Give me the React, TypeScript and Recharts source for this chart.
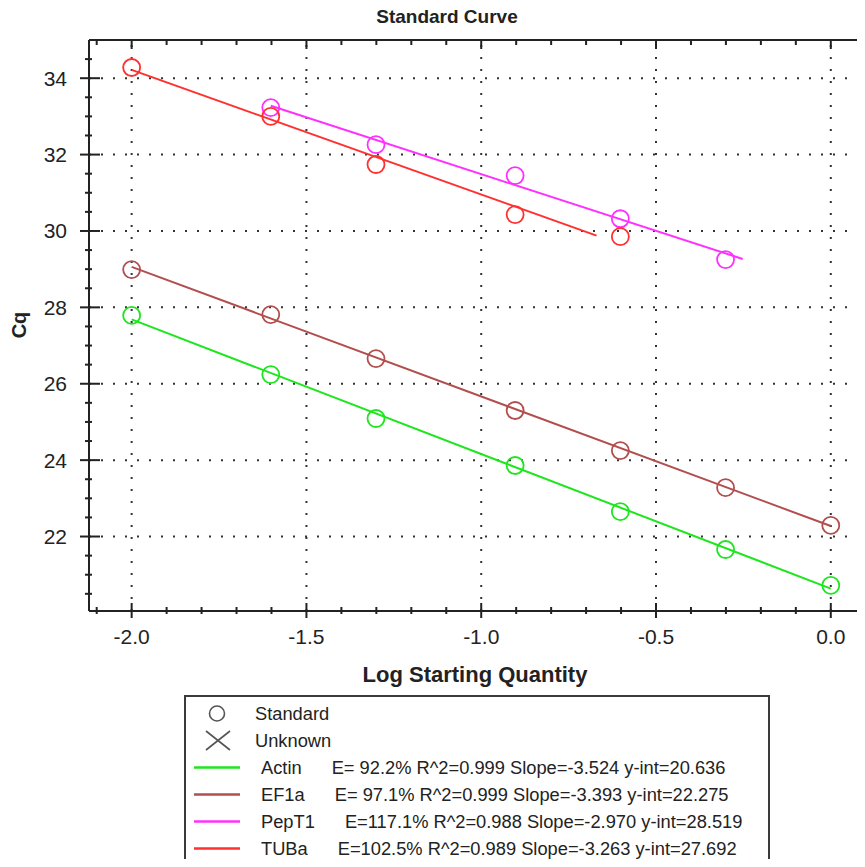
import React from "react";
import { ReferenceLine, Scatter, ScatterChart, XAxis, YAxis } from "recharts";

const FONT = '"Liberation Sans", Arial, sans-serif';
const INK = "#222";

// log10 of the dilution series
const LOG_QTY = [-2, -1.602, -1.301, -0.903, -0.602, -0.301, 0];
const ACTIN_CQ = [27.79, 26.24, 25.09, 23.86, 22.65, 21.66, 20.72];
const EF1A_CQ = [28.99, 27.81, 26.66, 25.3, 24.25, 23.28, 22.29];
const PEPT1_LOG = [-1.602, -1.301, -0.903, -0.602, -0.301];
const PEPT1_CQ = [33.23, 32.26, 31.45, 30.32, 29.25];
const TUBA_LOG = [-2, -1.602, -1.301, -0.903, -0.602];
const TUBA_CQ = [34.28, 33.0, 31.74, 30.43, 29.85];

const GENES = ["Actin", "EF1a", "PepT1", "TUBa"];
const COLORS = ["#1ee61e", "#b24e4e", "#ff30ff", "#ff3030"];
const EFFICIENCY = [92.2, 97.1, 117.1, 102.5];
const R2 = [0.999, 0.999, 0.988, 0.989];
const SLOPE = [-3.524, -3.393, -2.97, -3.263];
const Y_INT = [20.636, 22.275, 28.519, 27.692];
const FIT_FROM = [-2, -2, -1.602, -2];
const FIT_TO = [0, 0, -0.252, -0.67];

const X_TICKS = [
  -2.1, -2.0, -1.9, -1.8, -1.7, -1.6, -1.5, -1.4, -1.3, -1.2, -1.1, -1.0,
  -0.9, -0.8, -0.7, -0.6, -0.5, -0.4, -0.3, -0.2, -0.1, 0.0,
];
const X_LABELS = [-2.0, -1.5, -1.0, -0.5, 0.0];
const Y_TICKS = [
  20.5, 21, 21.5, 22, 22.5, 23, 23.5, 24, 24.5, 25, 25.5, 26, 26.5, 27, 27.5,
  28, 28.5, 29, 29.5, 30, 30.5, 31, 31.5, 32, 32.5, 33, 33.5, 34, 34.5,
];
const Y_LABELS = [22, 24, 26, 28, 30, 32, 34];

const X_DOMAIN = [-2.122, 0.095];
const Y_DOMAIN = [20.05, 35.0];

const points = (xs: number[], ys: number[]) => xs.map((x, i) => ({ x, y: ys[i] }));

const STANDARDS = [
  points(LOG_QTY, ACTIN_CQ),
  points(LOG_QTY, EF1A_CQ),
  points(PEPT1_LOG, PEPT1_CQ),
  points(TUBA_LOG, TUBA_CQ),
];

// regression lines from the reported slope / intercept
const FITS = GENES.map((_, i) =>
  [FIT_FROM[i], FIT_TO[i]].map((x) => ({ x, y: SLOPE[i] * x + Y_INT[i] }))
);

function BottomTick({ x, y, payload }: any) {
  const major = X_LABELS.includes(payload.value);
  return (
    <g>
      <line x1={x} x2={x} y1={y - (major ? 8 : 4)} y2={y + (major ? 7 : 3)} stroke={INK} strokeWidth={2} />
      {major && (
        <text x={x} y={y + 33} textAnchor="middle" fontSize={21} fontFamily={FONT} fill={INK}>
          {payload.value.toFixed(1)}
        </text>
      )}
    </g>
  );
}

function TopTick({ x, y, payload }: any) {
  const major = X_LABELS.includes(payload.value);
  return <line x1={x} x2={x} y1={y} y2={y + (major ? 9 : 5)} stroke={INK} strokeWidth={2} />;
}

function LeftTick({ x, y, payload }: any) {
  const major = Y_LABELS.includes(payload.value);
  return (
    <g>
      <line x1={x - (major ? 9 : 4)} x2={x + (major ? 11 : 3)} y1={y} y2={y} stroke={INK} strokeWidth={2} />
      {major && (
        <text x={x - 22} y={y + 7.5} textAnchor="end" fontSize={21} fontFamily={FONT} fill={INK}>
          {payload.value}
        </text>
      )}
    </g>
  );
}

function RightTick({ x, y, payload }: any) {
  const major = Y_LABELS.includes(payload.value);
  return <line x1={x - (major ? 7 : 3)} x2={x} y1={y} y2={y} stroke={INK} strokeWidth={2} />;
}

const openCircle = (color: string) => (p: any) =>
  <circle cx={p.cx} cy={p.cy} r={8.5} fill="none" stroke={color} strokeWidth={1.8} />;

const axisLine = { stroke: INK, strokeWidth: 2 };
const dotted = { stroke: "#333", strokeWidth: 2, strokeDasharray: "2 10" };

function statText(i: number) {
  const e = EFFICIENCY[i];
  return `E=${e < 100 ? " " : ""}${e.toFixed(1)}% R^2=${R2[i].toFixed(3)} Slope=${SLOPE[i].toFixed(3)} y-int=${Y_INT[i].toFixed(3)}`;
}

function LegendBox() {
  const row: React.CSSProperties = { height: 27, display: "flex", alignItems: "center", whiteSpace: "pre" };
  const sym: React.CSSProperties = { width: 69, flex: "none" };
  return (
    <div
      style={{
        position: "absolute",
        left: 184,
        top: 695,
        width: 586,
        height: 170,
        boxSizing: "border-box",
        border: "2px solid #3a3a3a",
        paddingTop: 3,
        fontFamily: FONT,
        fontSize: 18.3,
        color: INK,
      }}
    >
      <div style={row}>
        <svg width={69} height={27} style={sym}>
          <circle cx={31} cy={13.5} r={7.5} fill="none" stroke="#555" strokeWidth={1.6} />
        </svg>
        <span>Standard</span>
      </div>
      <div style={row}>
        <svg width={69} height={27} style={sym}>
          <path d="M20 4 L44 23 M44 4 L20 23" stroke="#555" strokeWidth={1.6} />
        </svg>
        <span>Unknown</span>
      </div>
      {GENES.map((g, i) => (
        <div key={g} style={row}>
          <svg width={75} height={27} style={{ flex: "none" }}>
            <line x1={8} x2={54} y1={13.5} y2={13.5} stroke={COLORS[i]} strokeWidth={2.5} />
          </svg>
          <span>{g}</span>
          <span style={{ marginLeft: 30 }}>{statText(i)}</span>
        </div>
      ))}
    </div>
  );
}

export default function App() {
  return (
    <div style={{ position: "relative", width: 865, height: 867, margin: -8, background: "#fff", overflow: "hidden" }}>
      <ScatterChart width={865} height={700} margin={{ top: 39, right: 0, bottom: 0, left: 0 }}>
        <XAxis
          xAxisId="b"
          type="number"
          dataKey="x"
          domain={X_DOMAIN}
          ticks={X_TICKS}
          interval={0}
          allowDataOverflow
          height={89}
          tickSize={0}
          tickMargin={0}
          tickLine={false}
          axisLine={axisLine}
          tick={<BottomTick />}
        />
        <XAxis
          xAxisId="t"
          orientation="top"
          type="number"
          dataKey="x"
          domain={X_DOMAIN}
          ticks={X_TICKS}
          interval={0}
          allowDataOverflow
          height={1}
          tickSize={0}
          tickMargin={0}
          tickLine={false}
          axisLine={axisLine}
          tick={<TopTick />}
        />
        <YAxis
          yAxisId="l"
          type="number"
          dataKey="y"
          domain={Y_DOMAIN}
          ticks={Y_TICKS}
          interval={0}
          allowDataOverflow
          width={89}
          tickSize={0}
          tickMargin={0}
          tickLine={false}
          axisLine={axisLine}
          tick={<LeftTick />}
        />
        <YAxis
          yAxisId="r"
          orientation="right"
          type="number"
          dataKey="y"
          domain={Y_DOMAIN}
          ticks={Y_TICKS}
          interval={0}
          allowDataOverflow
          width={1}
          tickSize={0}
          tickMargin={0}
          tickLine={false}
          axisLine={axisLine}
          tick={<RightTick />}
        />
        {X_LABELS.map((v) => (
          <ReferenceLine key={`x${v}`} x={v} xAxisId="b" yAxisId="l" {...dotted} />
        ))}
        {Y_LABELS.map((v) => (
          <ReferenceLine key={`y${v}`} y={v} xAxisId="b" yAxisId="l" {...dotted} />
        ))}
        {FITS.map((d, i) => (
          <Scatter
            key={`fit-${GENES[i]}`}
            xAxisId="b"
            yAxisId="l"
            data={d}
            fill={COLORS[i]}
            line={{ stroke: COLORS[i], strokeWidth: 2 }}
            shape={() => <g />}
            isAnimationActive={false}
          />
        ))}
        {STANDARDS.map((d, i) => (
          <Scatter
            key={`std-${GENES[i]}`}
            xAxisId="b"
            yAxisId="l"
            data={d}
            fill={COLORS[i]}
            shape={openCircle(COLORS[i])}
            isAnimationActive={false}
          />
        ))}
      </ScatterChart>
      <svg width={865} height={700} style={{ position: "absolute", left: 0, top: 0, pointerEvents: "none" }}>
        <text x={447} y={23} textAnchor="middle" fontSize={19} fontWeight="bold" fontFamily={FONT} fill={INK}>
          Standard Curve
        </text>
        <text x={475} y={682} textAnchor="middle" fontSize={22} fontWeight="bold" fontFamily={FONT} fill={INK}>
          Log Starting Quantity
        </text>
        <text
          x={26}
          y={325}
          textAnchor="middle"
          fontSize={20}
          fontWeight="bold"
          fontFamily={FONT}
          fill={INK}
          transform="rotate(-90 26 325)"
        >
          Cq
        </text>
      </svg>
      <LegendBox />
    </div>
  );
}
